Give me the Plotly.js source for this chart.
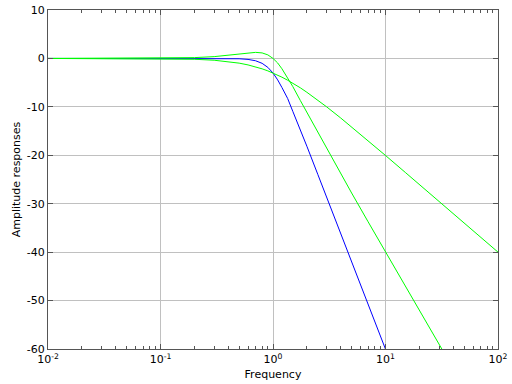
<!DOCTYPE html>
<html><head><meta charset="utf-8">
<script src="https://cdn.plot.ly/plotly-3.0.1.min.js"></script>
<style>html,body{margin:0;padding:0;background:#fff}</style>
</head><body>
<div id="chart" style="width:512px;height:384px"></div>
<script>
const freqs = [0.01, 0.05, 0.1, 0.2, 0.3, 0.4, 0.5, 0.6, 0.7, 0.8, 0.9, 1, 1.1, 1.2, 1.35, 1.5, 1.75, 2, 2.5, 3, 4, 5, 7, 10, 15, 20, 30, 40, 50, 70, 100];
const firstOrder = [0, -0.01, -0.04, -0.17, -0.37, -0.65, -0.97, -1.34, -1.73, -2.15, -2.57, -3.01, -3.43, -3.87, -4.50, -5.12, -6.07, -6.99, -8.60, -10.0, -12.3, -14.15, -17.0, -20.04, -23.54, -26.03, -29.55, -32.04, -33.98, -36.9, -40.0];
const secondOrder = [0, 0.01, 0.04, 0.17, 0.37, 0.63, 0.90, 1.14, 1.25, 1.14, 0.73, 0, -0.94, -2.13, -3.97, -5.81, -8.69, -11.14, -15.26, -18.63, -23.97, -27.79, -33.72, -39.96, -46.98, -52.03, -59.08, -64.08, -67.96, -73.8, -80.0];
const butter3 = [0, 0, 0, 0, -0.003, -0.018, -0.067, -0.20, -0.48, -1.01, -1.85, -3.01, -4.43, -6.00, -8.28, -10.93, -14.67, -18.13, -23.93, -28.63, -36.13, -41.94, -50.71, -60.0, -70.6, -78.1, -88.6, -96.1, -101.9, -110.7, -120.0];
const xTickVals = [0.01, 0.1, 1, 10, 100];
const xTickText = ['10<sup>-2</sup>', '10<sup>-1</sup>', '10<sup>0</sup>', '10<sup>1</sup>', '10<sup>2</sup>'];
const yTickVals = [10, 0, -10, -20, -30, -40, -50, -60];
const yTickText = ['10', '0', '-10', '-20', '-30', '-40', '-50', '-60'];

const traces = [
  {x: freqs, y: butter3, mode: 'lines', line: {color: '#0000ff', width: 1}},
  {x: freqs, y: firstOrder, mode: 'lines', line: {color: '#00ff00', width: 1}},
  {x: freqs, y: secondOrder, mode: 'lines', line: {color: '#00ff00', width: 1}}
];
const axisCommon = {
  showline: true, linecolor: '#555', linewidth: 1, mirror: 'allticks',
  ticks: 'inside', ticklen: 5, tickcolor: '#555', tickwidth: 1,
  showgrid: true, gridcolor: '#c0c0c0', gridwidth: 1, zeroline: false,
  tickfont: {family: 'DejaVu Sans', size: 11, color: '#000'}
};
const layout = {
  width: 512, height: 384,
  margin: {l: 48, r: 14, t: 10, b: 35},
  paper_bgcolor: '#fff', plot_bgcolor: '#fff',
  showlegend: false,
  font: {family: 'DejaVu Sans', size: 11, color: '#000'},
  xaxis: Object.assign({}, axisCommon, {
    type: 'log', range: [-2, 2], tickmode: 'array', tickvals: xTickVals, ticktext: xTickText,
    minor: {ticks: 'inside', ticklen: 3, tickcolor: '#555', dtick: 'D1', showgrid: false},
    title: {text: 'Frequency', font: {size: 11}, standoff: 5}
  }),
  yaxis: Object.assign({}, axisCommon, {
    range: [-60, 10], tickmode: 'array', tickvals: yTickVals, ticktext: yTickText,
    title: {text: 'Amplitude responses', font: {size: 11}, standoff: 3}
  })
};
Plotly.newPlot('chart', traces, layout, {displayModeBar: false, staticPlot: true});
</script>
</body></html>
